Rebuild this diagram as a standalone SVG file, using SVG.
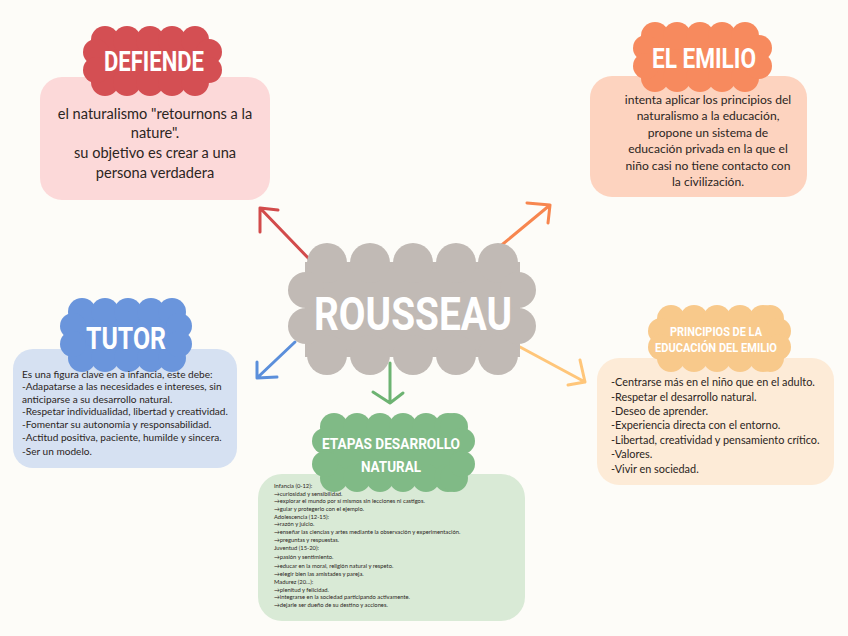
<svg xmlns="http://www.w3.org/2000/svg" width="848" height="636" viewBox="0 0 848 636">
<style>
.t{font-family:"Lato","Liberation Sans",sans-serif;fill:#2b2522}
.h{font-family:"Roboto","Liberation Sans",sans-serif;font-weight:700;fill:#ffffff;text-anchor:middle}
.arr{fill:none;stroke-width:3;stroke-linecap:round;stroke-linejoin:round}
</style>
<rect width="848" height="636" fill="#FDFCF8"/>
<g id="connectors">
<path class="arr" stroke="#D24B4B" d="M312,262 L260,208 M278,210 L260,208 L260,232"/>
<path class="arr" stroke="#F7864F" d="M498,248 L550,205 M527,203 L550,205 L548,223"/>
<path class="arr" stroke="#5B8FDB" d="M295,342 L257,378 M257,362 L257,378 L277,377"/>
<path class="arr" stroke="#6DB372" d="M390,363 L390,403 M373,392 L390,403 L403,393"/>
<path class="arr" stroke="#FFC67A" d="M520,347 L585,382 M568,385 L585,382 L580,360"/>
</g>
<g id="rousseau" fill="#C1BAB5">
<rect x="305" y="262" width="215" height="95"/>
<circle cx="327" cy="263" r="20"/><circle cx="370" cy="263" r="20"/><circle cx="413" cy="263" r="20"/><circle cx="456" cy="263" r="20"/><circle cx="498" cy="263" r="20"/>
<circle cx="327" cy="355" r="20"/><circle cx="370" cy="355" r="20"/><circle cx="413" cy="355" r="20"/><circle cx="456" cy="355" r="20"/><circle cx="498" cy="355" r="20"/>
<circle cx="306" cy="290" r="18"/><circle cx="306" cy="326" r="18"/><circle cx="518" cy="290" r="18"/><circle cx="518" cy="326" r="18"/>
<text class="h" x="413" y="330" font-size="46" textLength="198" lengthAdjust="spacingAndGlyphs">ROUSSEAU</text>
</g>
<g id="defiende">
<rect x="40" y="77" width="230" height="123" rx="22" fill="#FCD9D9"/>
<g fill="#D44F53">
<rect x="98" y="40" width="109" height="42"/>
<circle cx="105" cy="40" r="14"/><circle cx="127" cy="40" r="14"/><circle cx="150" cy="40" r="14"/><circle cx="172" cy="40" r="14"/><circle cx="195" cy="40" r="14"/>
<circle cx="105" cy="82" r="14"/><circle cx="127" cy="82" r="14"/><circle cx="150" cy="82" r="14"/><circle cx="172" cy="82" r="14"/><circle cx="195" cy="82" r="14"/>
<circle cx="96" cy="52" r="13"/><circle cx="96" cy="70" r="13"/><circle cx="209" cy="52" r="13"/><circle cx="209" cy="70" r="13"/>
</g>
<text class="h" x="154" y="71" font-size="28" textLength="100" lengthAdjust="spacingAndGlyphs">DEFIENDE</text>
<g class="t" font-size="14.6" text-anchor="middle">
<text x="155" y="119">el naturalismo "retournons a la</text>
<text x="155" y="138">nature".</text>
<text x="155" y="158">su objetivo es crear a una</text>
<text x="155" y="178">persona verdadera</text>
</g>
</g>
<g id="elemilio">
<rect x="590" y="76" width="217" height="121" rx="22" fill="#FDD3BF"/>
<g fill="#F78A5E">
<rect x="648" y="36" width="109" height="42"/>
<circle cx="655" cy="36" r="14"/><circle cx="677" cy="36" r="14"/><circle cx="700" cy="36" r="14"/><circle cx="722" cy="36" r="14"/><circle cx="745" cy="36" r="14"/>
<circle cx="655" cy="78" r="14"/><circle cx="677" cy="78" r="14"/><circle cx="700" cy="78" r="14"/><circle cx="722" cy="78" r="14"/><circle cx="745" cy="78" r="14"/>
<circle cx="646" cy="48" r="13"/><circle cx="646" cy="66" r="13"/><circle cx="759" cy="48" r="13"/><circle cx="759" cy="66" r="13"/>
</g>
<text class="h" x="704" y="68" font-size="28" textLength="104" lengthAdjust="spacingAndGlyphs">EL EMILIO</text>
<g class="t" font-size="12.1" text-anchor="middle">
<text x="708" y="104">intenta aplicar los principios del</text>
<text x="708" y="120">naturalismo a la educación,</text>
<text x="708" y="137">propone un sistema de</text>
<text x="708" y="153">educación privada en la que el</text>
<text x="708" y="170">niño casi no tiene contacto con</text>
<text x="708" y="186">la civilización.</text>
</g>
</g>
<g id="tutor">
<rect x="13" y="349" width="224" height="119" rx="20" fill="#D6E1F2"/>
<g fill="#6A95DC">
<rect x="75" y="312" width="102" height="46"/>
<circle cx="82" cy="312" r="14"/><circle cx="105" cy="312" r="14"/><circle cx="128" cy="312" r="14"/><circle cx="151" cy="312" r="14"/><circle cx="172" cy="312" r="14"/>
<circle cx="82" cy="358" r="14"/><circle cx="105" cy="358" r="14"/><circle cx="128" cy="358" r="14"/><circle cx="151" cy="358" r="14"/><circle cx="172" cy="358" r="14"/>
<circle cx="73" cy="326" r="13"/><circle cx="73" cy="344" r="13"/><circle cx="179" cy="326" r="13"/><circle cx="179" cy="344" r="13"/>
</g>
<text class="h" x="126" y="349" font-size="32" textLength="80" lengthAdjust="spacingAndGlyphs">TUTOR</text>
<g class="t" font-size="10.1">
<text x="22" y="378">Es una figura clave en a infancia, este debe:</text>
<text x="22" y="390">-Adapatarse a las necesidades e intereses, sin</text>
<text x="22" y="403">anticiparse a su desarrollo natural.</text>
<text x="22" y="415">-Respetar individualidad, libertad y creatividad.</text>
<text x="22" y="428">-Fomentar su autonomia y responsabilidad.</text>
<text x="22" y="441">-Actitud positiva, paciente, humilde y sincera.</text>
<text x="22" y="455">-Ser un modelo.</text>
</g>
</g>
<g id="principios">
<rect x="597" y="358" width="237" height="127" rx="22" fill="#FDEBD7"/>
<g fill="#F8C98B">
<rect x="664" y="319" width="112" height="39"/>
<circle cx="671" cy="319" r="14"/><circle cx="694" cy="319" r="14"/><circle cx="717" cy="319" r="14"/><circle cx="740" cy="319" r="14"/><circle cx="763" cy="319" r="14"/><circle cx="770" cy="319" r="14"/>
<circle cx="671" cy="358" r="14"/><circle cx="694" cy="358" r="14"/><circle cx="717" cy="358" r="14"/><circle cx="740" cy="358" r="14"/><circle cx="763" cy="358" r="14"/><circle cx="770" cy="358" r="14"/>
<circle cx="661" cy="331" r="13"/><circle cx="661" cy="347" r="13"/><circle cx="778" cy="331" r="13"/><circle cx="778" cy="347" r="13"/>
</g>
<text class="h" x="716" y="336" font-size="12" textLength="92" lengthAdjust="spacingAndGlyphs">PRINCIPIOS DE LA</text>
<text class="h" x="716" y="352" font-size="12" textLength="122" lengthAdjust="spacingAndGlyphs">EDUCACIÓN DEL EMILIO</text>
<g class="t" font-size="10.9">
<text x="611" y="386">-Centrarse más en el niño que en el adulto.</text>
<text x="611" y="401">-Respetar el desarrollo natural.</text>
<text x="611" y="415">-Deseo de aprender.</text>
<text x="611" y="429">-Experiencia directa con el entorno.</text>
<text x="611" y="444">-Libertad, creatividad y pensamiento crítico.</text>
<text x="611" y="458">-Valores.</text>
<text x="611" y="473">-Vivir en sociedad.</text>
</g>
</g>
<g id="etapas">
<rect x="258" y="474" width="267" height="147" rx="24" fill="#D9EAD6"/>
<g fill="#80BA86">
<rect x="327" y="427" width="133" height="51"/>
<circle cx="334" cy="427" r="14"/><circle cx="357" cy="427" r="14"/><circle cx="380" cy="427" r="14"/><circle cx="403" cy="427" r="14"/><circle cx="426" cy="427" r="14"/><circle cx="448" cy="427" r="14"/><circle cx="454" cy="427" r="14"/>
<circle cx="334" cy="478" r="14"/><circle cx="357" cy="478" r="14"/><circle cx="380" cy="478" r="14"/><circle cx="403" cy="478" r="14"/><circle cx="426" cy="478" r="14"/><circle cx="448" cy="478" r="14"/><circle cx="454" cy="478" r="14"/>
<circle cx="325" cy="441" r="13"/><circle cx="325" cy="464" r="13"/><circle cx="462" cy="441" r="13"/><circle cx="462" cy="464" r="13"/>
</g>
<text class="h" x="391" y="449" font-size="14" textLength="138" lengthAdjust="spacingAndGlyphs">ETAPAS DESARROLLO</text>
<text class="h" x="391" y="472" font-size="14" textLength="60" lengthAdjust="spacingAndGlyphs">NATURAL</text>
<g class="t" font-size="5.8" fill="#3a3532">
<text x="274" y="488">Infancia (0-12):</text>
<text x="274" y="496">→curiosidad y sensibilidad.</text>
<text x="274" y="503">→explorar el mundo por sí mismos sin lecciones ni castigos.</text>
<text x="274" y="511">→guiar y protegerlo con el ejemplo.</text>
<text x="274" y="519">Adolescencia (12-15):</text>
<text x="274" y="526">→razón y juicio.</text>
<text x="274" y="534">→enseñar las ciencias y artes mediante la observación y experimentación.</text>
<text x="274" y="542">→preguntas y respuestas.</text>
<text x="274" y="550">Juventud (15-20):</text>
<text x="274" y="559">→pasión y sentimiento.</text>
<text x="274" y="568">→educar en la moral, religión natural y respeto.</text>
<text x="274" y="576">→elegir bien las amistades y pareja.</text>
<text x="274" y="584">Madurez (20...):</text>
<text x="274" y="592">→plenitud y felicidad.</text>
<text x="274" y="599">→integrarse en la sociedad participando activamente.</text>
<text x="274" y="607">→dejarle ser dueño de su destino y acciones.</text>
</g>
</g>
</svg>
